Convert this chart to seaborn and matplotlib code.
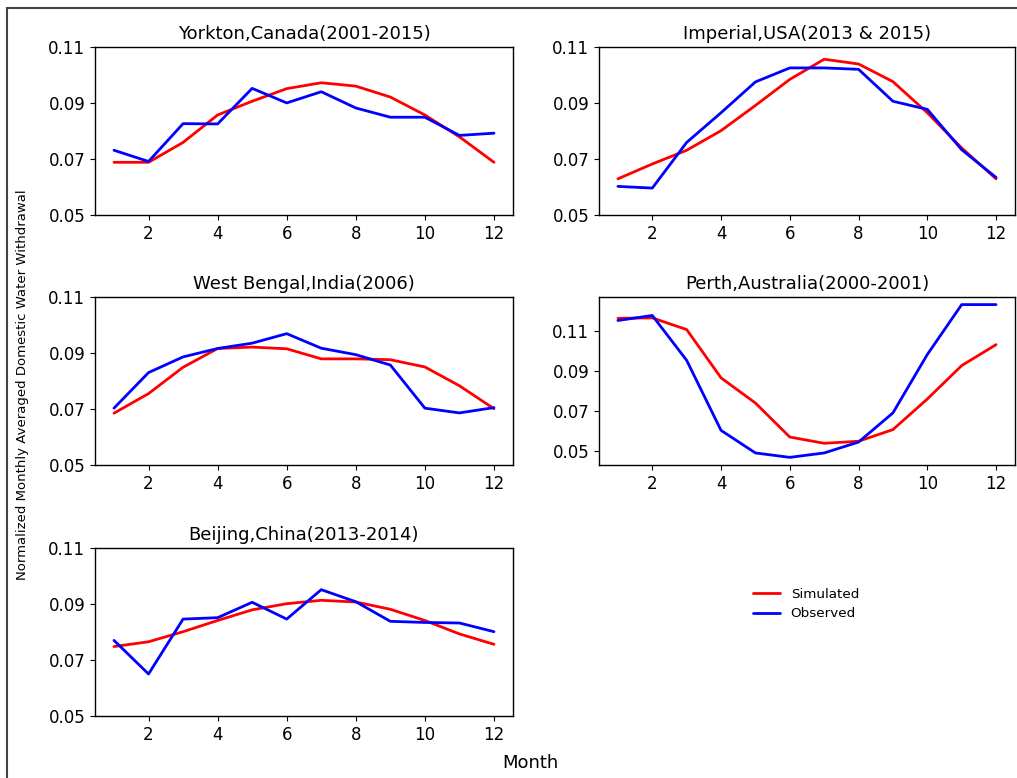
import numpy as np
import pandas as pd
import matplotlib
matplotlib.use("Agg")
import matplotlib.pyplot as plt
import seaborn as sns
from matplotlib.patches import Rectangle

# Monthly data
months = list(range(1, 13))

yorkton_sim = [0.0688, 0.0688, 0.0759, 0.0857, 0.0906, 0.0951, 0.0972, 0.0960, 0.0921, 0.0857, 0.0779, 0.0688]
yorkton_obs = [0.0731, 0.0691, 0.0826, 0.0825, 0.0952, 0.0900, 0.0940, 0.0882, 0.0849, 0.0849, 0.0784, 0.0792]

imperial_sim = [0.0629, 0.0682, 0.0731, 0.0801, 0.0891, 0.0984, 0.1056, 0.1039, 0.0976, 0.0865, 0.0739, 0.0629]
imperial_obs = [0.0602, 0.0596, 0.0759, 0.0865, 0.0975, 0.1025, 0.1025, 0.1020, 0.0906, 0.0877, 0.0733, 0.0634]

bengal_sim = [0.0685, 0.0755, 0.0849, 0.0916, 0.0921, 0.0915, 0.0879, 0.0879, 0.0876, 0.0850, 0.0783, 0.0701]
bengal_obs = [0.0703, 0.0830, 0.0886, 0.0916, 0.0935, 0.0969, 0.0917, 0.0894, 0.0857, 0.0703, 0.0686, 0.0705]

perth_sim = [0.1161, 0.1163, 0.1105, 0.0865, 0.0740, 0.0571, 0.0540, 0.0550, 0.0608, 0.0760, 0.0926, 0.1030]
perth_obs = [0.1150, 0.1175, 0.0952, 0.0604, 0.0492, 0.0470, 0.0492, 0.0546, 0.0691, 0.0981, 0.1229, 0.1229]

beijing_sim = [0.0748, 0.0765, 0.0801, 0.0841, 0.0879, 0.0901, 0.0913, 0.0907, 0.0881, 0.0841, 0.0793, 0.0756]
beijing_obs = [0.0770, 0.0650, 0.0846, 0.0851, 0.0906, 0.0846, 0.0951, 0.0908, 0.0838, 0.0834, 0.0832, 0.0801]

titles = [
    "Yorkton,Canada(2001-2015)",
    "Imperial,USA(2013 & 2015)",
    "West Bengal,India(2006)",
    "Perth,Australia(2000-2001)",
    "Beijing,China(2013-2014)",
]
sim_series = [yorkton_sim, imperial_sim, bengal_sim, perth_sim, beijing_sim]
obs_series = [yorkton_obs, imperial_obs, bengal_obs, perth_obs, beijing_obs]

# Style
sns.set_style("ticks")
plt.rcParams["font.family"] = ["DejaVu Sans"]
plt.rcParams["font.size"] = 12
plt.rcParams.update({
    "axes.edgecolor": "black",
    "axes.linewidth": 1.0,
    "text.color": "black",
    "axes.labelcolor": "black",
    "xtick.color": "black",
    "ytick.color": "black",
})

fig = plt.figure(figsize=(10.17, 7.78), dpi=100)

# axes positions [left, bottom, width, height] in figure fractions
positions = [
    [0.0934, 0.7237, 0.411, 0.216],
    [0.589, 0.7237, 0.409, 0.216],
    [0.0934, 0.4023, 0.411, 0.216],
    [0.589, 0.4023, 0.409, 0.216],
    [0.0934, 0.0797, 0.411, 0.216],
]

palette = {"Simulated": "red", "Observed": "blue"}

for i, (title, sim, obs) in enumerate(zip(titles, sim_series, obs_series)):
    ax = fig.add_axes(positions[i])
    df = pd.DataFrame(
        {
            "Month": months * 2,
            "Value": sim + obs,
            "Series": ["Simulated"] * 12 + ["Observed"] * 12,
        }
    )
    sns.lineplot(
        data=df, x="Month", y="Value", hue="Series", palette=palette,
        linewidth=2, ax=ax, legend=False,
    )
    ax.set_title(title, fontsize=13)
    ax.set_xlabel("")
    ax.set_ylabel("")
    ax.set_xticks([2, 4, 6, 8, 10, 12])
    ax.set_yticks([0.05, 0.07, 0.09, 0.11])
    ax.set_yticklabels(["0.05", "0.07", "0.09", "0.11"])
    if i != 3:
        ax.set_ylim(0.05, 0.11)
    ax.tick_params(labelsize=12)

# Legend
handles = [
    plt.Line2D([], [], color="red", lw=2, label="Simulated"),
    plt.Line2D([], [], color="blue", lw=2, label="Observed"),
]
fig.legend(
    handles=handles, loc="center", bbox_to_anchor=(806 / 1017, 1 - 604 / 778),
    frameon=False, fontsize=9.7,
)

# Shared labels
fig.text(0.022, 0.505, "Normalized Monthly Averaged Domestic Water Withdrawal",
         rotation=90, ha="center", va="center", fontsize=9.5)
fig.text(0.522, 0.019, "Month", ha="center", va="center", fontsize=13)

# Figure frame
fig.add_artist(Rectangle((0.0069, -0.1), 1.2, 1.0897, transform=fig.transFigure,
                         fill=False, edgecolor="#444444", lw=1.5))

fig.savefig("out.png", dpi=100)
